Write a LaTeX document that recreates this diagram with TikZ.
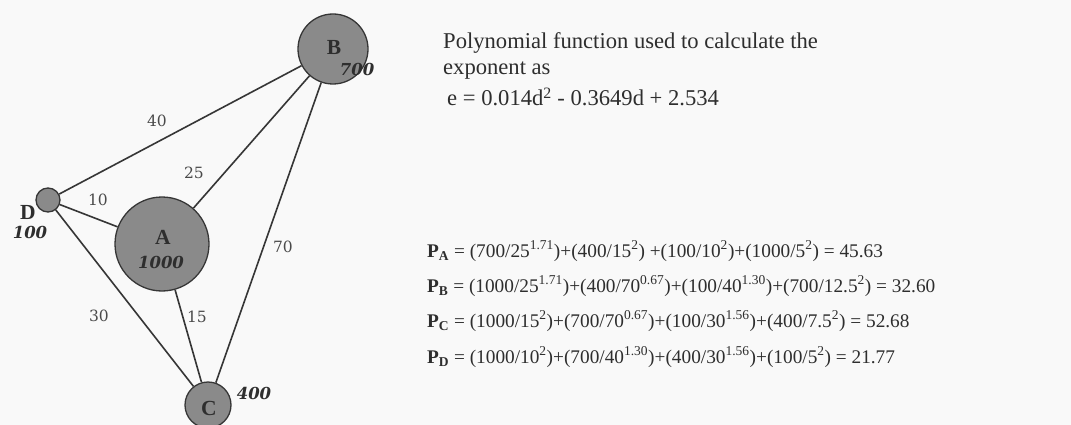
\documentclass[tikz,border=0pt]{standalone}
\usepackage{fontspec}
\setmainfont{Liberation Serif}
\newfontfamily\numfont{DejaVu Serif}
\definecolor{bgcol}{HTML}{F9F9F9}
\definecolor{nodegray}{HTML}{8A8A8A}
\definecolor{edgecol}{HTML}{363636}
\definecolor{labcol}{HTML}{4A4A4A}
\definecolor{txtcol}{HTML}{2E2E2E}
\tikzset{
  city/.style={circle,draw=edgecol,fill=nodegray,line width=1.3pt,inner sep=0pt,minimum size=#1},
  link/.style={draw=edgecol,line width=1.6pt},
  elab/.style={text=labcol,font=\numfont\fontsize{15.5}{15.5}\selectfont,inner sep=0pt},
  cname/.style={text=txtcol,font=\fontsize{21.5}{21.5}\selectfont\bfseries,inner sep=0pt},
  cval/.style={text=txtcol,font=\numfont\fontsize{16.5}{16.5}\selectfont\bfseries\itshape,inner sep=0pt},
  body/.style={text=txtcol,font=\fontsize{22.6}{22.6}\selectfont,inner sep=0pt,anchor=base west},
  eqn/.style={text=txtcol,font=\fontsize{19.3}{19.3}\selectfont,inner sep=0pt,anchor=west}
}
\newcommand{\Pv}[1]{\textbf{P}\textsubscript{\textbf{#1}}}
\newcommand{\up}[1]{\textsuperscript{#1}}
\begin{document}
\begin{tikzpicture}[x=1pt,y=-1pt]
\useasboundingbox (0,0) rectangle (1071,425);
\fill[bgcol] (0,0) rectangle (1071,425);
% cities
\node[city=94] (A) at (162,244) {};
\node[city=70] (B) at (333,49) {};
\node[city=46] (C) at (208,405) {};
\node[city=24] (D) at (48,200) {};
% connectors
\draw[link] (D) -- (B);
\draw[link] (D) -- (A);
\draw[link] (D) -- (C);
\draw[link] (A) -- (B);
\draw[link] (A) -- (C);
\draw[link] (B) -- (C);
% distance labels
\node[elab] (l40) at (157,121) {40};
\node[elab] (l25) at (194,173) {25};
\node[elab] (l10) at (98,200) {10};
\node[elab] (l70) at (283,247) {70};
\node[elab] (l30) at (99,316) {30};
\node[elab] (l15) at (197,317) {15};
% city names and values
\node[cname] (nA) at (163,237) {A};
\node[cval] (vA) at (161,262) {1000};
\node[cname] (nB) at (334,47) {B};
\node[cval] (vB) at (357,69) {700};
\node[cname] (nC) at (209,408) {C};
\node[cval] (vC) at (254,393) {400};
\node[cname] (nD) at (28,212) {D};
\node[cval] (vD) at (30,232) {100};
% text
\node[body] (poly1) at (443,49) {Polynomial function used to calculate the};
\node[body] (poly2) at (443,75) {exponent as};
\node[body] (poly3) at (447,106) {e = 0.014d\up{2} - 0.3649d + 2.534};
\node[eqn] (pa) at (427,251) {\Pv{A} = (700/25\up{1.71})+(400/15\up{2}) +(100/10\up{2})+(1000/5\up{2}) = 45.63};
\node[eqn] (pb) at (427,286) {\Pv{B} = (1000/25\up{1.71})+(400/70\up{0.67})+(100/40\up{1.30})+(700/12.5\up{2}) = 32.60};
\node[eqn] (pc) at (427,321) {\Pv{C} = (1000/15\up{2})+(700/70\up{0.67})+(100/30\up{1.56})+(400/7.5\up{2}) = 52.68};
\node[eqn] (pd) at (427,357) {\Pv{D} = (1000/10\up{2})+(700/40\up{1.30})+(400/30\up{1.56})+(100/5\up{2}) = 21.77};
\end{tikzpicture}
\end{document}
